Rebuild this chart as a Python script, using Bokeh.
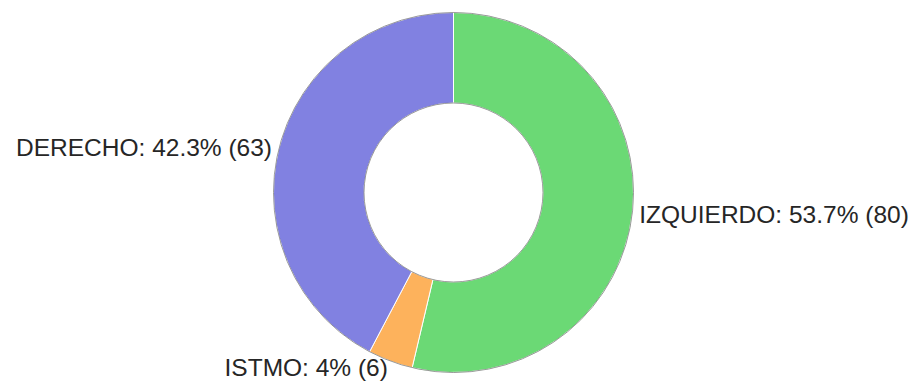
import math
from bokeh.plotting import figure
from bokeh.models import ColumnDataSource, Range1d
from bokeh.core.properties import value
from bokeh.embed import file_html
from bokeh.resources import INLINE

categories = ["IZQUIERDO", "ISTMO", "DERECHO"]
counts = [80, 6, 63]
colors = ["#6BD975", "#FDB25C", "#8181E1"]

W, H = 915, 387
cx, cy = 453, H - 192
r_out, r_in = 180, 89.5
r_lab = 187

total = sum(counts)
starts, ends, lx, ly, labels, aligns = [], [], [], [], [], []
acc = 0.0
for cat, n in zip(categories, counts):
    a0 = acc / total * 2 * math.pi
    acc += n
    a1 = acc / total * 2 * math.pi
    starts.append(math.pi / 2 - a0)
    ends.append(math.pi / 2 - a1)
    mid = (a0 + a1) / 2
    lx.append(cx + r_lab * math.sin(mid))
    ly.append(cy + r_lab * math.cos(mid))
    pct = n / total * 100
    ptxt = f"{pct:.1f}".rstrip("0").rstrip(".")
    labels.append(f"{cat}: {ptxt}% ({n})")
    aligns.append("left" if math.sin(mid) > 0 else "right")

src = ColumnDataSource(dict(start=starts, end=ends, color=colors))
lsrc = ColumnDataSource(dict(x=lx, y=ly, text=labels, align=aligns))

p = figure(width=W, height=H, x_range=Range1d(0, W), y_range=Range1d(0, H),
           output_backend="svg", toolbar_location=None, min_border=0)
p.axis.visible = False
p.grid.visible = False
p.outline_line_color = None

p.annular_wedge(x=cx, y=cy, inner_radius=r_in, outer_radius=r_out,
                start_angle="start", end_angle="end", direction="clock",
                fill_color="color", line_color="white", line_width=1, source=src)
p.circle(x=[cx, cx], y=[cy, cy], radius=[r_out, r_in], fill_color=None,
         line_color="#6f6f6f", line_width=1, line_alpha=0.7)

p.text(x="x", y="y", text="text", text_align="align", text_baseline="middle",
       text_font=value("Liberation Sans"), text_font_size="24.5px",
       text_color="#262626", source=lsrc)

open("out.html", "w").write(file_html(p, INLINE))
